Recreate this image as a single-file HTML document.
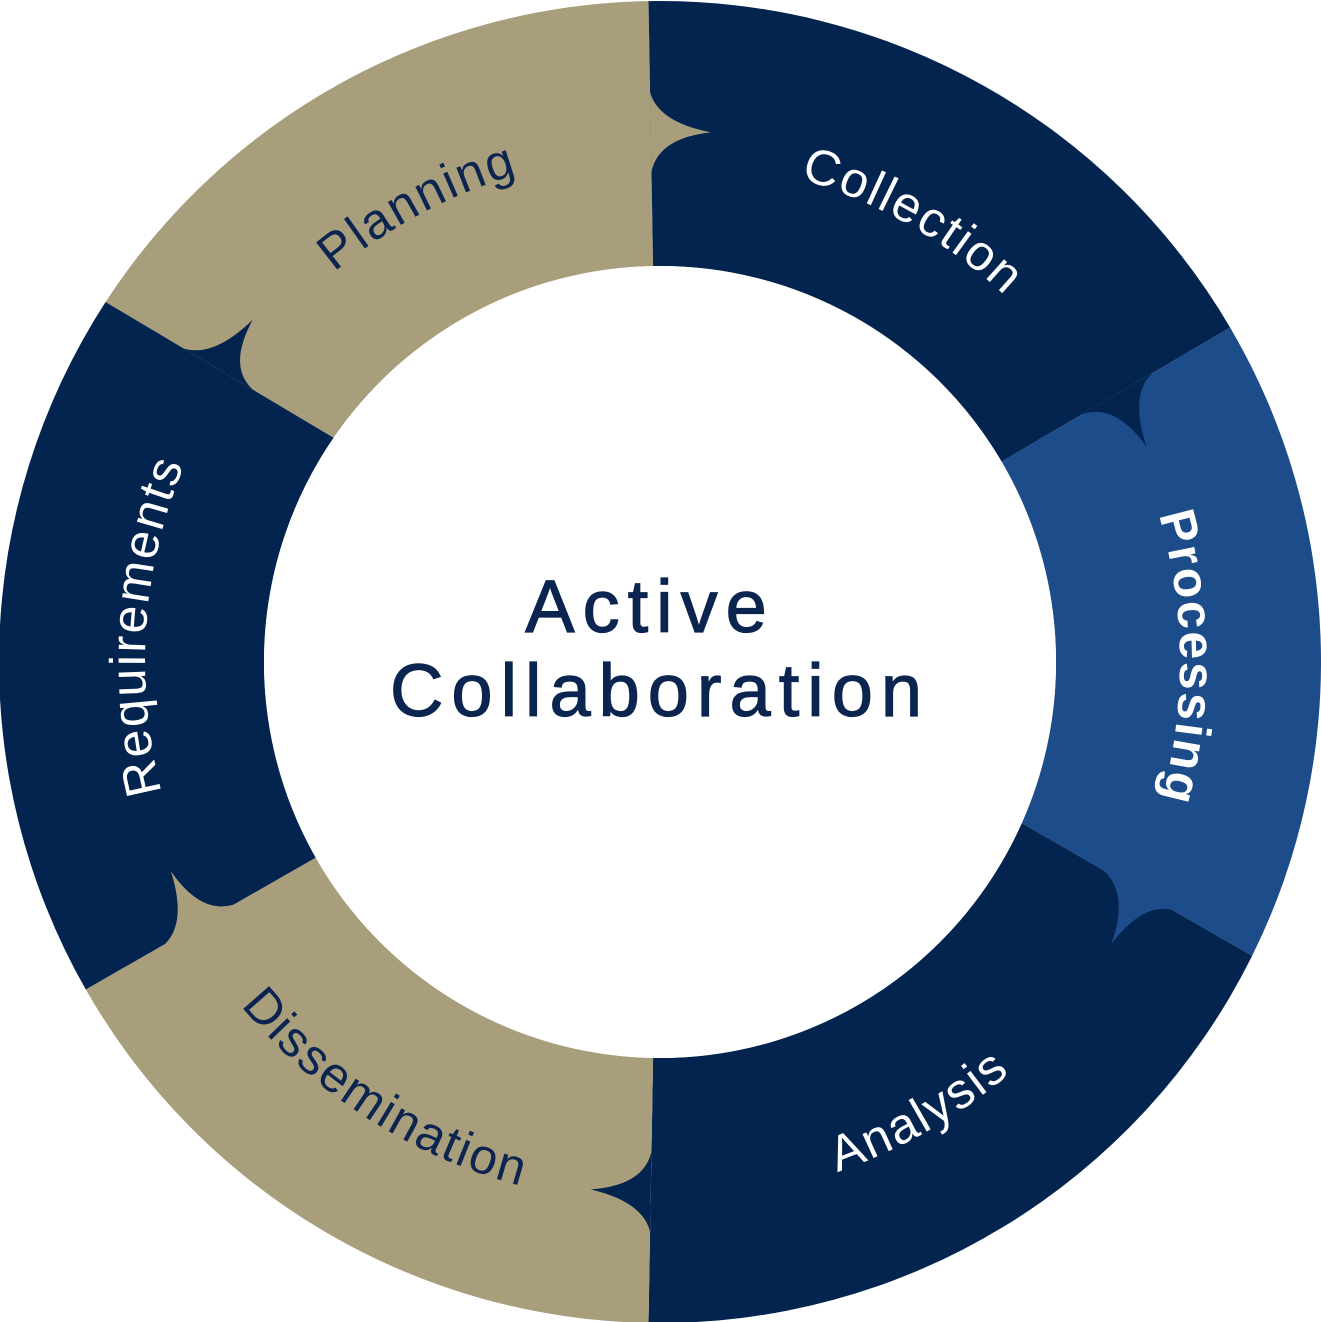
<!DOCTYPE html>
<html><head><meta charset="utf-8">
<style>
html,body{margin:0;padding:0;background:#fff;}
svg{display:block;}
text{font-family:"Liberation Sans",sans-serif;}
</style></head>
<body>
<svg id="s" width="1321" height="1322" viewBox="0 0 1321 1322" xmlns="http://www.w3.org/2000/svg">
<defs></defs>
<g id="segs"></g>
<g id="tips"></g>
<circle cx="660" cy="662" r="396" fill="#fff"/>
<g id="labels"></g>
<text x="650" y="632" text-anchor="middle" font-size="74" fill="#0b2450" stroke="#0b2450" stroke-width="1.2" letter-spacing="8">Active</text>
<text x="660" y="716" text-anchor="middle" font-size="74" fill="#0b2450" stroke="#0b2450" stroke-width="1.2" letter-spacing="8">Collaboration</text>
</svg>
<script>
var cx=660,cy=662,R=661,ri=396,NS="http://www.w3.org/2000/svg";
function P(a,r){var t=a*Math.PI/180;return [cx+r*Math.cos(t),cy-r*Math.sin(t)];}
function f(p){return p[0].toFixed(1)+","+p[1].toFixed(1);}
var navy="#02244f",tan="#a89e7b",blue="#1c4c8a";
var B=[[147,145.5],[91,91],[30.4,30.4],[-26.4,-24],[-91,-91],[-150.3,-150.4]];
var cols=[tan,navy,blue,navy,tan,navy];
var g=document.getElementById("segs"),tg=document.getElementById("tips");
for(var i=0;i<6;i++){
  var b0=B[i],b1=B[(i+1)%6];
  var o0=b0[0],i0=b0[1],o1=b1[0],i1=b1[1];
  if(o1>o0){o1-=360;i1-=360;}
  var d="M"+f(P(o0,R))+" A"+R+","+R+" 0 0 1 "+f(P(o1,R))+" L"+f(P(i1,ri))+" A"+ri+","+ri+" 0 0 0 "+f(P(i0,ri))+"Z";
  var p=document.createElementNS(NS,"path");p.setAttribute("d",d);p.setAttribute("fill",cols[i]);g.appendChild(p);
  // point on boundary line at radius r
  var O=P(o1,R),I=P(i1,ri);
  function L(r){var t=(R-r)/(R-ri);return [O[0]+(I[0]-O[0])*t,O[1]+(I[1]-O[1])*t];}
  var A=L(570),D=L(490),M=L(532);
  var am=Math.atan2(-(M[1]-cy),M[0]-cx)*180/Math.PI;
  var T=P(am-6.5,532),q1=P(am-0.8,540),q2=P(am-0.8,524);
  var td="M"+f(A)+" Q"+f(q1)+" "+f(T)+" Q"+f(q2)+" "+f(D)+"Z";
  var tp=document.createElementNS(NS,"path");tp.setAttribute("d",td);tp.setAttribute("fill",cols[i]);tg.appendChild(tp);
}
var defs=document.querySelector("defs"),lg=document.getElementById("labels");
var labels=[["Planning",118,508,1,0],["Collection",60.2,503,1,0],["Processing",0.5,520,1,1],
["Analysis",-60.1,540,0,0],["Dissemination",-122.7,542,0,0],["Requirements",176,515,1,0]];
labels.forEach(function(l,i){
  var id="tp"+i,cw=l[3],c=l[1],h=40;
  var a0=cw?c+h:c-h,a1=cw?c-h:c+h;
  var d="M"+f(P(a0,l[2]))+" A"+l[2]+","+l[2]+" 0 0 "+cw+" "+f(P(a1,l[2]));
  var p=document.createElementNS(NS,"path");p.setAttribute("id",id);p.setAttribute("d",d);p.setAttribute("fill","none");defs.appendChild(p);
  var t=document.createElementNS(NS,"text");t.setAttribute("font-size","50");
  t.setAttribute("fill",l[0]=="Planning"||l[0]=="Dissemination"?"#0b2450":"#fff");
  if(l[4])t.setAttribute("font-weight","bold");
  t.setAttribute("letter-spacing","2");
  var tp=document.createElementNS(NS,"textPath");tp.setAttribute("href","#"+id);
  tp.setAttribute("startOffset","50%");tp.setAttribute("text-anchor","middle");tp.textContent=l[0];
  t.appendChild(tp);lg.appendChild(t);
});
</script>
</body></html>
